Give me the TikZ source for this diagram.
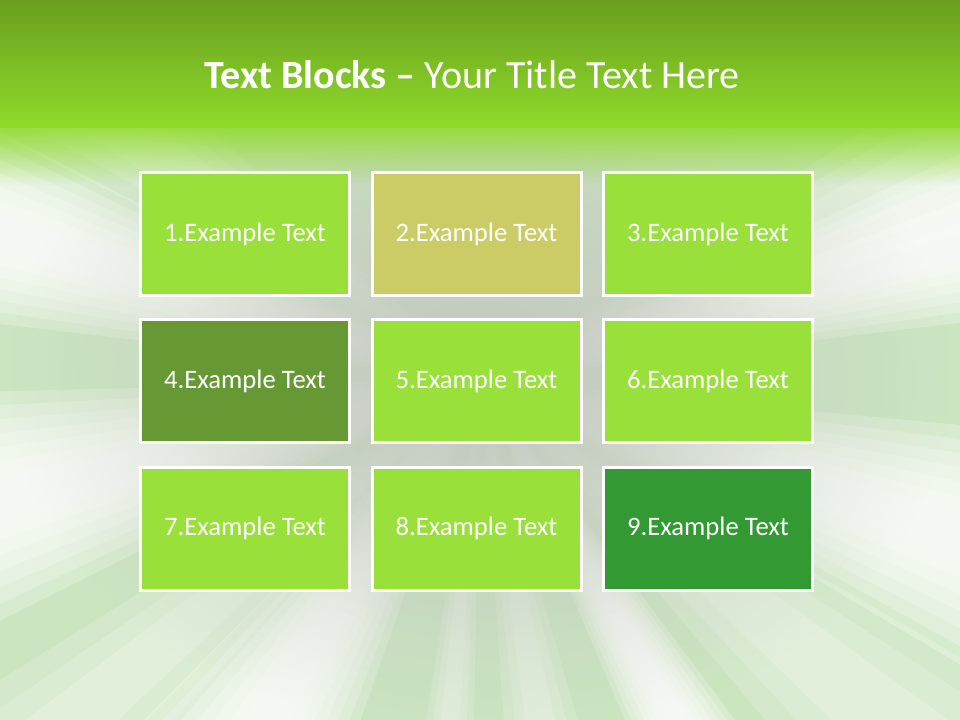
\documentclass[tikz,border=0pt]{standalone}
\usepackage{fontspec}
\setmainfont{Carlito}
\usetikzlibrary{fadings}
\definecolor{bandtop}{HTML}{6A9F1E}
\definecolor{bandbot}{HTML}{8FDB2A}
\definecolor{bglight}{HTML}{CBE5C0}
\definecolor{bggray}{HTML}{C4CAC0}
\definecolor{blight}{HTML}{9AE03A}
\definecolor{bolive}{HTML}{CCCC66}
\definecolor{bmid}{HTML}{669933}
\definecolor{bdark}{HTML}{339933}
\tikzfading[name=radfade, inner color=transparent!0, outer color=transparent!100]
\tikzfading[name=downfade, top color=transparent!0, bottom color=transparent!100]
\tikzset{
  blk/.style={draw=white, line width=2.25pt, minimum width=156.75pt, minimum height=92.25pt,
    inner sep=0pt, text=white, font=\fontsize{20}{24}\selectfont},
  raylayer/.style={fill=white, opacity=0.24},
  softlayer/.style={fill=white, opacity=0.18}
}
\begin{document}
\begin{tikzpicture}[x=0.75pt, y=-0.75pt]
\useasboundingbox (0,0) rectangle (960,720);
\clip (0,0) rectangle (960,720);
% background
\fill[bglight] (0,0) rectangle (960,720);
\coordinate (ctr) at (480,380);
% soft rays (angles measured on screen, y downward)
\begin{scope}[shift={(ctr)}]
\foreach \c/\h in {197/9, 166/11, -16/8, 18/11, 122/11, 60/6} {
  \foreach \k in {0.25,0.4,0.55,0.7,0.85,1.0,1.15} {
    \fill[raylayer] (0,0) -- (\c-\h*\k:1100) -- (\c+\h*\k:1100) -- cycle;
  }
}
\foreach \c/\h in {80/6, 215/8, 335/8, 40/10, 140/8, 95/4} {
  \foreach \k in {0.4,0.7,1.0} {
    \fill[softlayer] (0,0) -- (\c-\h*\k:1100) -- (\c+\h*\k:1100) -- cycle;
  }
}
\end{scope}
% gray centre
\fill[bggray, path fading=radfade] (ctr) ellipse (470 and 360);
\fill[bggray, opacity=0.6, path fading=radfade] (ctr) ellipse (300 and 260);
% top band
\shade[top color=bandtop, bottom color=bandbot] (0,0) rectangle (960,128);
\fill[bandbot, path fading=downfade, opacity=0.85] (0,128) rectangle (960,185);
% title
\node[text=white, font=\fontsize{30}{36}\selectfont] (title) at (472,75)
  {\textbf{Text Blocks –} Your Title Text Here};
% blocks
\node[blk, fill=blight] (b1) at (245,234) {1.Example Text};
\node[blk, fill=bolive] (b2) at (476.5,234) {2.Example Text};
\node[blk, fill=blight] (b3) at (708,234) {3.Example Text};
\node[blk, fill=bmid]   (b4) at (245,381) {4.Example Text};
\node[blk, fill=blight] (b5) at (476.5,381) {5.Example Text};
\node[blk, fill=blight] (b6) at (708,381) {6.Example Text};
\node[blk, fill=blight] (b7) at (245,528.5) {7.Example Text};
\node[blk, fill=blight] (b8) at (476.5,528.5) {8.Example Text};
\node[blk, fill=bdark]  (b9) at (708,528.5) {9.Example Text};
\end{tikzpicture}
\end{document}
